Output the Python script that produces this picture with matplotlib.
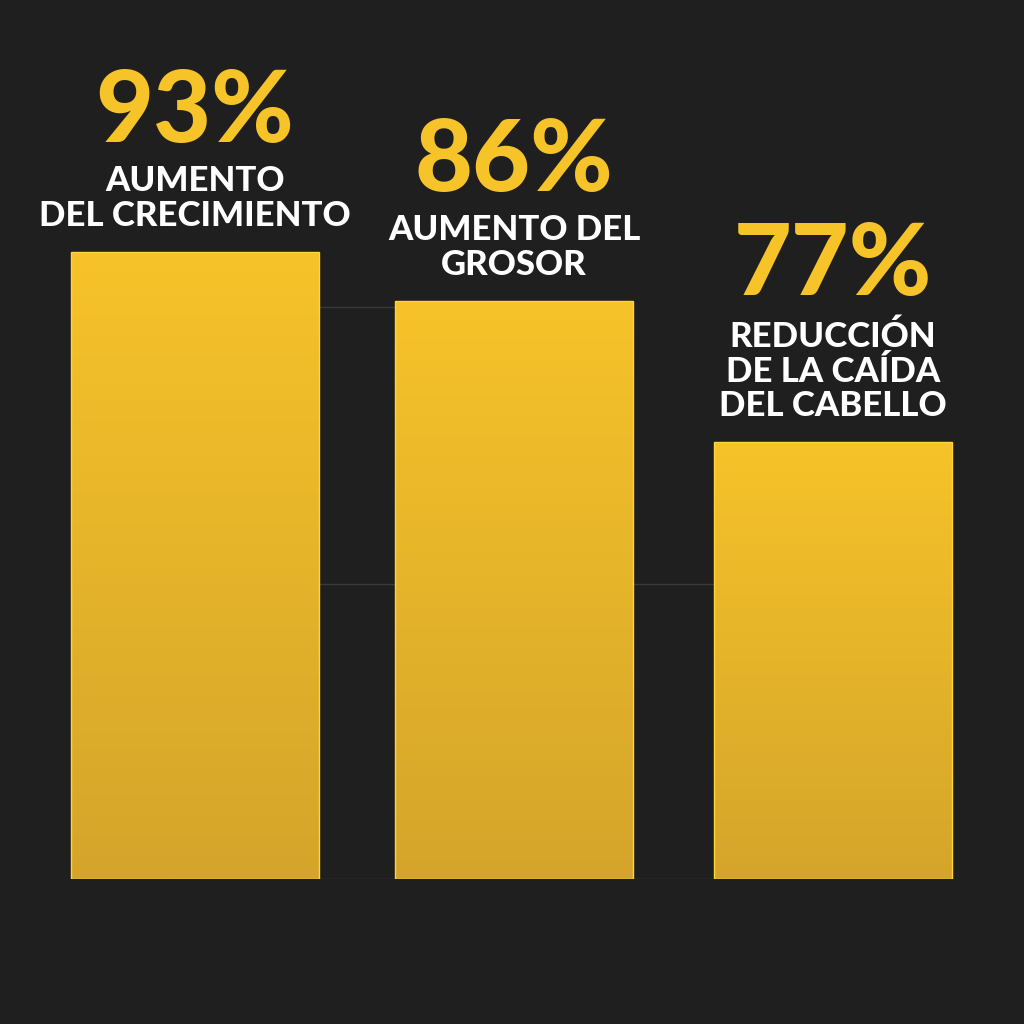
import numpy as np
import matplotlib
matplotlib.use("Agg")
import matplotlib.pyplot as plt
from matplotlib.colors import LinearSegmentedColormap

# ==========================================
# Data
# ==========================================

percent_labels = ["93%", "86%", "77%"]
descriptions = [
    "AUMENTO\nDEL CRECIMIENTO",
    "AUMENTO DEL\nGROSOR",
    "REDUCCIÓN\nDE LA CAÍDA\nDEL CABELLO",
]
# bar heights as drawn in the picture (arbitrary units)
bar_heights = [108.1, 99.7, 75.3]
bar_widths = [0.78, 0.745, 0.745]
grid_levels = [50.9, 98.6]

# ==========================================
# Style
# ==========================================

BG = "#1f1f1f"
TOP_YELLOW = "#f6c329"
BOTTOM_YELLOW = "#d4a52b"
EDGE_YELLOW = "#ffd633"

plt.rcParams["font.family"] = ["Lato", "DejaVu Sans"]

fig = plt.figure(figsize=(10.24, 10.24), dpi=100, facecolor=BG)
ax = fig.add_axes([0, 145 / 1024, 1, 879 / 1024])
ax.set_facecolor(BG)

x = np.arange(len(bar_heights))
ax.set_xlim(-195 / 319, (1024 - 195) / 319)
ax.set_ylim(0, 879 / 5.8)
ax.axis("off")

# faint grid lines, only visible in the gaps below the neighbouring bars
for level in grid_levels + [0]:
    covered = [i for i, h in enumerate(bar_heights) if h >= level]
    ax.hlines(level, x[covered[0]], x[covered[-1]],
              color="#3a3a3a", linewidth=1, zorder=1)

bars = ax.bar(x, bar_heights, width=bar_widths, color="none",
              edgecolor=EDGE_YELLOW, linewidth=1, zorder=3)

# vertical gradient inside each bar
cmap = LinearSegmentedColormap.from_list("bar", [BOTTOM_YELLOW, TOP_YELLOW])
grad = np.linspace(0, 1, 256).reshape(-1, 1)
for bar in bars:
    bx, by = bar.get_x(), bar.get_y()
    bw, bh = bar.get_width(), bar.get_height()
    im = ax.imshow(grad, cmap=cmap, origin="lower", aspect="auto",
                   extent=[bx, bx + bw, by, by + bh], zorder=2)
    im.set_clip_path(bar)

# ==========================================
# Labels
# ==========================================

line_px = 37
for xi, h, pct, desc in zip(x, bar_heights, percent_labels, descriptions):
    n_lines = desc.count("\n") + 1
    ax.annotate(desc, (xi, h), xytext=(0, 26), textcoords="offset pixels",
                ha="center", va="baseline", ma="center", color="white",
                fontsize=25, fontweight="black", linespacing=1.1, zorder=4)
    ax.annotate(pct, (xi, h), xytext=(0, 26 + n_lines * line_px + 10),
                textcoords="offset pixels", ha="center", va="baseline",
                color=TOP_YELLOW, fontsize=72, fontweight="black", zorder=4)

fig.savefig("out.png", dpi=100, facecolor=BG)
